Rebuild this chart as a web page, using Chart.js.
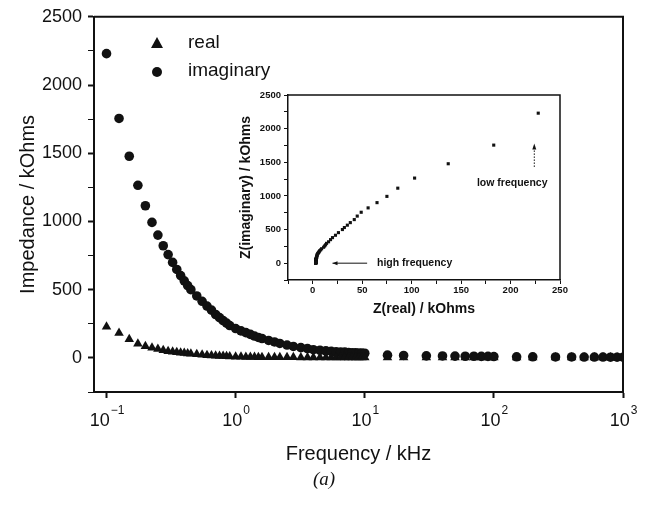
<!DOCTYPE html>
<html>
<head>
<meta charset="utf-8">
<script src="https://cdn.jsdelivr.net/npm/chart.js@4.4.0/dist/chart.umd.min.js"></script>
<style>
  body { margin: 0; background: #fff; }
  #wrap { position: relative; width: 647px; height: 506px; }
  #main { position: absolute; left: 0; top: 0; }
  #inset { position: absolute; left: 225px; top: 85px; }
  #cap { position: absolute; left: 313px; top: 468px; font: italic 19px "Liberation Serif", serif; color: #111; }
</style>
</head>
<body>
<div id="wrap">
  <canvas id="main" width="647" height="506"></canvas>
  <canvas id="inset" width="350" height="240"></canvas>
  <div id="cap">(a)</div>
</div>
<script>
// frequency in kHz
const freq = [
  0.1, 0.125, 0.15, 0.175, 0.2, 0.225, 0.25, 0.275, 0.3, 0.325,
  0.35, 0.375, 0.4, 0.425, 0.45, 0.5, 0.55, 0.6, 0.65, 0.7,
  0.75, 0.8, 0.85, 0.9, 1.0, 1.1, 1.2, 1.3, 1.4, 1.5,
  1.6, 1.8, 2.0, 2.2, 2.5, 2.8, 3.2, 3.6, 4, 4.5,
  5, 5.5, 6, 6.5, 7, 7.5, 8, 8.5, 9, 9.5,
  10, 15, 20, 30, 40, 50, 60, 70, 80, 90,
  100, 150, 200, 300, 400, 500, 600, 700, 800, 900,
  1000
];
// Z real, kOhms
const realZ = [
  228, 183, 137, 103, 86, 75, 65, 56, 49, 45,
  42, 38, 35, 32, 30, 26, 23, 20, 18, 16,
  14, 13, 12, 11, 9, 8, 7, 6.5, 6, 5.5,
  5, 4.5, 4.5, 4, 4, 4, 3.5, 3.5, 3.5, 3.5,
  3, 3, 3, 3, 3, 3, 3, 3, 3, 3,
  3, 3, 3, 3, 3, 3, 3, 3, 3, 3,
  3, 3, 3, 3, 3, 3, 3, 3, 3, 3,
  3
];
// Z imaginary, kOhms
const imagZ = [
  2230, 1755, 1478, 1265, 1115, 993, 900, 822, 757, 700,
  648, 603, 565, 530, 500, 454, 415, 380, 350, 318,
  295, 273, 255, 237, 215, 198, 185, 172, 160, 150,
  142, 128, 117, 106, 94, 84, 75, 68, 60, 56,
  52, 48, 45, 43, 42, 40, 38, 37, 36, 35,
  34, 20, 18, 15, 14, 13, 12, 12, 11, 11,
  10, 8, 8, 7, 7, 6, 6, 6, 5, 5,
  5
];
const decadeTicks = [0.1, 1, 10, 100, 1000];
const seriesNames = ["real", "imaginary"];

const black = "#111";

// frame, legend and 10^n labels for the main plot
const mainExtras = {
  id: "mainExtras",
  afterDraw(chart) {
    const c = chart.ctx, a = chart.chartArea;
    c.save();
    c.strokeStyle = black;
    c.lineWidth = 2;
    c.beginPath();
    c.moveTo(a.left, a.top); c.lineTo(a.right, a.top); c.lineTo(a.right, a.bottom);
    c.stroke();

    // legend
    c.fillStyle = black;
    c.beginPath();
    c.moveTo(157, 37); c.lineTo(163, 48); c.lineTo(151, 48); c.closePath();
    c.fill();
    c.beginPath(); c.arc(157, 72, 5, 0, Math.PI * 2); c.fill();
    c.font = '19px "Liberation Sans", Arial, sans-serif';
    c.textBaseline = "middle";
    c.textAlign = "left";
    c.fillText(seriesNames[0], 188, 43);
    c.fillText(seriesNames[1], 188, 71);

    // decade labels
    const xs = chart.scales.x;
    xs.ticks.forEach(t => {
      const px = xs.getPixelForValue(t.value);
      const e = String(Math.round(Math.log10(t.value))).replace("-", "\u2212");
      c.font = '18px "Liberation Sans", Arial, sans-serif';
      const w1 = c.measureText("10").width;
      c.font = '12px "Liberation Sans", Arial, sans-serif';
      const w2 = c.measureText(e).width;
      const x0 = px - (w1 + w2) / 2;
      c.font = '18px "Liberation Sans", Arial, sans-serif';
      c.fillText("10", x0, 421);
      c.font = '12px "Liberation Sans", Arial, sans-serif';
      c.fillText(e, x0 + w1 + 1, 411);
    });
    c.restore();
  }
};

new Chart(document.getElementById("main"), {
  type: "scatter",
  data: {
    datasets: [
      {
        label: seriesNames[0],
        data: freq.map((f, i) => ({ x: f, y: realZ[i] })),
        pointStyle: "triangle",
        pointRadius: 5.5,
        backgroundColor: black,
        borderColor: black,
        borderWidth: 0
      },
      {
        label: seriesNames[1],
        data: freq.map((f, i) => ({ x: f, y: imagZ[i] })),
        pointStyle: "circle",
        pointRadius: 4.8,
        backgroundColor: black,
        borderColor: black,
        borderWidth: 0
      }
    ]
  },
  options: {
    responsive: false,
    animation: false,
    layout: { padding: { top: 14, right: 24, bottom: 40, left: 0 } },
    plugins: { legend: { display: false }, tooltip: { enabled: false } },
    scales: {
      x: {
        type: "logarithmic",
        min: 0.08,
        max: 1000,
        afterBuildTicks: s => { s.ticks = decadeTicks.map(v => ({ value: v })); },
        afterFit: s => { s.height = 74; },
        ticks: { callback: () => "", padding: 0 },
        grid: { drawOnChartArea: false, tickLength: 6, color: black, tickWidth: 2 },
        border: { color: black, width: 2 },
        title: {
          display: true,
          text: "Frequency / kHz",
          color: black,
          font: { family: '"Liberation Sans", Arial, sans-serif', size: 20 },
          padding: { top: 0, bottom: 0 }
        }
      },
      y: {
        min: -250,
        max: 2500,
        afterFit: s => { s.width = 94; },
        ticks: {
          stepSize: 250,
          callback: v => (v >= 0 && v % 500 === 0 ? v : ""),
          color: black,
          padding: 6,
          font: { family: '"Liberation Sans", Arial, sans-serif', size: 18 }
        },
        grid: {
          drawOnChartArea: false,
          tickLength: 6,
          color: black,
          tickWidth: c => (c.tick && c.tick.value % 500 === 0 ? 2 : 1)
        },
        border: { color: black, width: 2 },
        title: {
          display: true,
          text: "Impedance / kOhms",
          color: black,
          font: { family: '"Liberation Sans", Arial, sans-serif', size: 20 },
          padding: { top: 16, bottom: 0 }
        }
      }
    }
  },
  plugins: [mainExtras]
});

// inset: Nyquist plot of the same data
const insetExtras = {
  id: "insetExtras",
  afterDraw(chart) {
    const c = chart.ctx, a = chart.chartArea;
    const xs = chart.scales.x, ys = chart.scales.y;
    c.save();
    c.strokeStyle = black;
    c.fillStyle = black;
    c.lineWidth = 1.5;
    c.beginPath();
    c.moveTo(a.left, a.top); c.lineTo(a.right, a.top); c.lineTo(a.right, a.bottom);
    c.stroke();

    c.font = 'bold 10.5px "Liberation Sans", Arial, sans-serif';
    c.textBaseline = "middle";
    // high frequency arrow (pointing left)
    const hy = ys.getPixelForValue(0);
    const hx0 = xs.getPixelForValue(20), hx1 = xs.getPixelForValue(55);
    c.lineWidth = 1;
    c.beginPath(); c.moveTo(hx0, hy); c.lineTo(hx1, hy); c.stroke();
    c.beginPath(); c.moveTo(hx0, hy); c.lineTo(hx0 + 5, hy - 2); c.lineTo(hx0 + 5, hy + 2); c.closePath(); c.fill();
    c.fillText("high frequency", xs.getPixelForValue(65), hy);

    // low frequency arrow (pointing up, dotted)
    const lx = xs.getPixelForValue(224);
    const ly0 = ys.getPixelForValue(1780), ly1 = ys.getPixelForValue(1410);
    c.setLineDash([1.5, 1.5]);
    c.beginPath(); c.moveTo(lx, ly0 + 4); c.lineTo(lx, ly1); c.stroke();
    c.setLineDash([]);
    c.beginPath(); c.moveTo(lx, ly0); c.lineTo(lx - 2, ly0 + 6); c.lineTo(lx + 2, ly0 + 6); c.closePath(); c.fill();
    c.fillText("low frequency", xs.getPixelForValue(166), ys.getPixelForValue(1190));
    c.restore();
  }
};

const insetFont = { family: '"Liberation Sans", Arial, sans-serif', size: 9.5, weight: "bold" };
const insetTitleFont = { family: '"Liberation Sans", Arial, sans-serif', size: 14, weight: "bold" };

new Chart(document.getElementById("inset"), {
  type: "scatter",
  data: {
    datasets: [{
      data: realZ.map((r, i) => ({ x: r, y: imagZ[i] })),
      pointStyle: "rect",
      pointRadius: 2.2,
      backgroundColor: black,
      borderWidth: 0
    }]
  },
  options: {
    responsive: false,
    animation: false,
    layout: { padding: { top: 10, right: 15, bottom: 0, left: 0 } },
    plugins: { legend: { display: false }, tooltip: { enabled: false } },
    scales: {
      x: {
        type: "linear",
        min: -25,
        max: 250,
        afterFit: s => { s.height = 45; },
        ticks: {
          stepSize: 25,
          autoSkip: false,
          maxRotation: 0,
          callback: v => (v >= 0 && v % 50 === 0 ? v : ""),
          color: black,
          padding: 1,
          font: insetFont
        },
        grid: { drawOnChartArea: false, tickLength: 4, color: black, tickWidth: 1 },
        border: { color: black, width: 1.5 },
        title: {
          display: true,
          text: "Z(real) / kOhms",
          color: black,
          font: insetTitleFont,
          padding: { top: 0, bottom: 7 }
        }
      },
      y: {
        min: -250,
        max: 2500,
        afterFit: s => { s.width = 63; },
        ticks: {
          stepSize: 250,
          autoSkip: false,
          callback: v => (v >= 0 && v % 500 === 0 ? v : ""),
          color: black,
          padding: 3,
          font: insetFont
        },
        grid: { drawOnChartArea: false, tickLength: 4, color: black, tickWidth: 1 },
        border: { color: black, width: 1.5 },
        title: {
          display: true,
          text: "Z(imaginary) / kOhms",
          color: black,
          font: insetTitleFont,
          padding: { top: 13, bottom: 0 }
        }
      }
    }
  },
  plugins: [insetExtras]
});
</script>
</body>
</html>
